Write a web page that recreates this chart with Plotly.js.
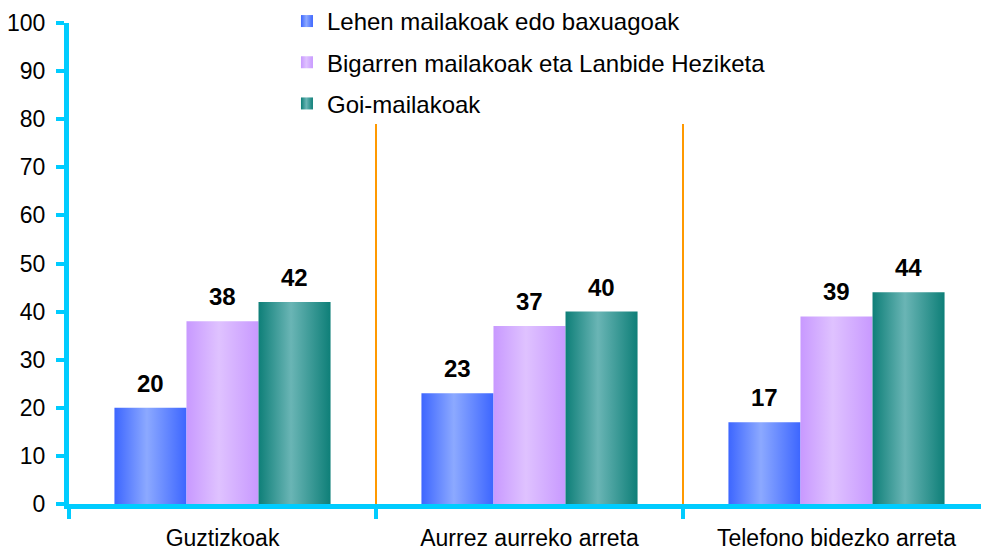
<!DOCTYPE html>
<html>
<head>
<meta charset="utf-8">
<script src="https://cdn.plot.ly/plotly-3.0.1.min.js"></script>
<style>html,body{margin:0;padding:0;background:#fff;}#chart{width:981px;height:557px;}</style>
</head>
<body>
<div id="chart"></div>
<script>
const categories = ["Guztizkoak", "Aurrez aurreko arreta", "Telefono bidezko arreta"];
const seriesNames = ["Lehen mailakoak edo baxuagoak", "Bigarren mailakoak eta Lanbide Heziketa", "Goi-mailakoak"];
const seriesValues = [
  [20, 23, 17],
  [38, 37, 39],
  [42, 40, 44]
];
const yTicks = [0, 10, 20, 30, 40, 50, 60, 70, 80, 90, 100];
const dividerTop = 79;

const baseColors = ["#5C80FF", "#D4B0FF", "#3F9C98"];
const gradStops = [
  ["#3D66FF", "#8CA9FF", "#3D66FF"],
  ["#C899FF", "#DFC2FF", "#C899FF"],
  ["#0E7F78", "#6AB5B5", "#0E7F78"]
];
const FONT = "Liberation Sans, Arial, sans-serif";
const bargap = 0.296;
const barW = (1 - bargap) / 3;

const traces = seriesNames.map((name, k) => ({
  type: "bar",
  name: name,
  x: categories,
  y: seriesValues[k],
  marker: {color: baseColors[k], line: {width: 0}},
  legendgroup: "g" + k,
  hoverinfo: "y"
}));

const annotations = [];
seriesValues.forEach((vals, k) => {
  vals.forEach((v, i) => {
    annotations.push({
      x: i + (k - 1) * barW, y: v, xref: "x", yref: "y",
      text: "<b>" + v + "</b>", showarrow: false,
      yanchor: "bottom", yshift: 9,
      font: {family: FONT, size: 24, color: "#000"}
    });
  });
});

const shapes = [0.5, 1.5].map(xv => ({
  type: "line", xref: "x", yref: "y",
  x0: xv, x1: xv, y0: 0, y1: dividerTop,
  line: {color: "#FF9900", width: 2}
}));

const layout = {
  width: 981, height: 557,
  margin: {l: 69, r: 0, t: 23, b: 53, autoexpand: false},
  paper_bgcolor: "#fff", plot_bgcolor: "#fff",
  font: {family: FONT, size: 23, color: "#000"},
  barmode: "group", bargap: bargap, bargroupgap: 0,
  showlegend: true,
  legend: {
    x: 0.239, xanchor: "left", y: 1.05, yanchor: "top",
    font: {family: FONT, size: 24, color: "#000"},
    tracegroupgap: 7, bgcolor: "rgba(0,0,0,0)",
    traceorder: "grouped"
  },
  xaxis: {
    type: "category", range: [-0.5, -0.5 + 912 / 307],
    showline: true, linecolor: "#00CCFF", linewidth: 5,
    ticks: "outside", tickson: "boundaries", ticklen: 10, tickwidth: 4, tickcolor: "#00CCFF",
    showgrid: false, zeroline: false,
    ticklabelstandoff: 9,
    tickfont: {family: FONT, size: 23, color: "#000"}
  },
  yaxis: {
    range: [0, 100], tickvals: yTicks, ticktext: yTicks.map(String),
    showline: true, linecolor: "#00CCFF", linewidth: 5,
    ticks: "outside", ticklen: 8, tickwidth: 4, tickcolor: "#00CCFF",
    showgrid: false, zeroline: false,
    ticklabelstandoff: 6,
    tickfont: {family: FONT, size: 23, color: "#000"}
  },
  annotations: annotations,
  shapes: shapes
};

Plotly.newPlot("chart", traces, layout, {displayModeBar: false, staticPlot: true}).then(gd => {
  const svg = gd.querySelector(".main-svg");
  const ns = "http://www.w3.org/2000/svg";
  let defs = svg.querySelector("defs");
  if (!defs) { defs = document.createElementNS(ns, "defs"); svg.insertBefore(defs, svg.firstChild); }
  gradStops.forEach((st, k) => {
    const g = document.createElementNS(ns, "linearGradient");
    g.setAttribute("id", "bargrad" + k);
    g.setAttribute("x1", "0"); g.setAttribute("x2", "1");
    g.setAttribute("y1", "0"); g.setAttribute("y2", "0");
    [[0, st[0]], [0.45, st[1]], [1, st[2]]].forEach(([o, c]) => {
      const s = document.createElementNS(ns, "stop");
      s.setAttribute("offset", o); s.setAttribute("stop-color", c);
      g.appendChild(s);
    });
    defs.appendChild(g);
  });
  gd.querySelectorAll(".barlayer .trace").forEach((tr, k) => {
    tr.querySelectorAll(".point path").forEach(p => { p.style.fill = "url(#bargrad" + k + ")"; });
  });
  gd.querySelectorAll(".legend .traces").forEach((tr, k) => {
    tr.querySelectorAll(".legendpoints path").forEach(p => { p.style.fill = "url(#bargrad" + k + ")"; });
  });
});
</script>
</body>
</html>
